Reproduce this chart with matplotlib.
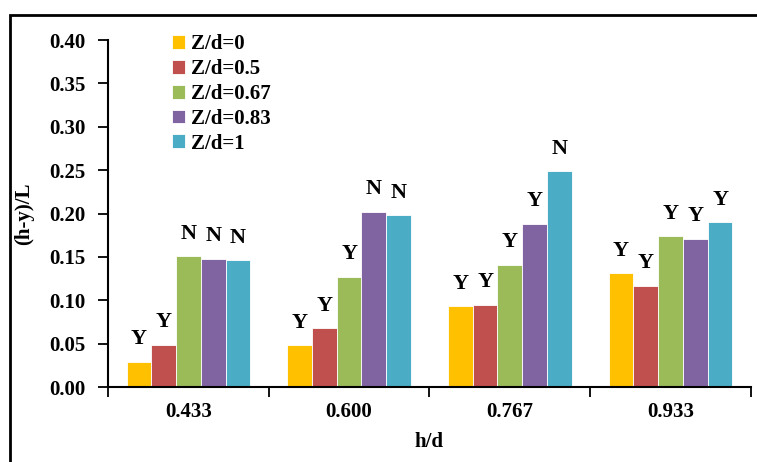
import numpy as np
import matplotlib.pyplot as plt
from matplotlib.patches import Rectangle

# h/d categories and (h-y)/L values for each Z/d series
categories = ['0.433', '0.600', '0.767', '0.933']
series_names = ['Z/d=0', 'Z/d=0.5', 'Z/d=0.67', 'Z/d=0.83', 'Z/d=1']
zd_0 = [0.029, 0.048, 0.093, 0.131]
zd_05 = [0.049, 0.068, 0.095, 0.117]
zd_067 = [0.151, 0.127, 0.141, 0.174]
zd_083 = [0.148, 0.202, 0.188, 0.171]
zd_1 = [0.146, 0.198, 0.249, 0.190]
# Y/N flag written above each bar
flags_0 = ['Y', 'Y', 'Y', 'Y']
flags_05 = ['Y', 'Y', 'Y', 'Y']
flags_067 = ['N', 'Y', 'Y', 'Y']
flags_083 = ['N', 'N', 'Y', 'Y']
flags_1 = ['N', 'N', 'N', 'Y']

colors = ['#FFC000', '#C0504D', '#9BBB59', '#8064A2', '#4BACC6']
values = [zd_0, zd_05, zd_067, zd_083, zd_1]
flags = [flags_0, flags_05, flags_067, flags_083, flags_1]

plt.rcParams['font.family'] = ['Liberation Serif', 'DejaVu Serif']
plt.rcParams['font.weight'] = 'bold'
fs = 15

fig = plt.figure(figsize=(7.57, 4.62), dpi=100)
ax = fig.add_axes([0.1427, 0.1623, 0.8493, 0.7511])

centers = np.arange(len(categories)) + 0.5
w = 0.154
for i, (vals, fl) in enumerate(zip(values, flags)):
    x = centers + (i - 2) * w
    ax.bar(x, vals, width=w, color=colors[i], edgecolor='white',
           linewidth=0.6, label=series_names[i])
    for xi, v, f in zip(x, vals, fl):
        ax.annotate(f, (xi, v), xytext=(0, 9), textcoords='offset points',
                    ha='center', va='bottom', fontsize=fs + 1, fontweight='bold')

ax.set_xlim(0, 4)
ax.set_ylim(0, 0.40)
ax.set_yticks(np.arange(0, 0.401, 0.05))
ax.set_yticklabels([f'{t:.2f}' for t in np.arange(0, 0.401, 0.05)],
                   fontsize=fs, fontweight='bold')
ax.set_xticks(np.arange(0, 5))
ax.set_xticklabels([])
ax.set_xticks(centers, minor=True)
ax.set_xticklabels(categories, minor=True, fontsize=fs, fontweight='bold')
ax.tick_params(axis='x', which='major', length=7, width=1.3, direction='out')
ax.tick_params(axis='x', which='minor', length=0, pad=11)
ax.tick_params(axis='y', length=7, width=1.3, pad=9)

for side in ['top', 'right']:
    ax.spines[side].set_visible(False)
for side in ['left', 'bottom']:
    ax.spines[side].set_linewidth(1.5)

ax.set_ylabel('(h-y)/L', fontsize=fs, fontweight='bold', labelpad=11)
ax.set_xlabel('h/d', fontsize=fs, fontweight='bold', labelpad=7)

ax.legend(loc='upper left', bbox_to_anchor=(0.07, 1.07), frameon=False,
          prop={'size': fs, 'weight': 'bold'}, handlelength=0.63,
          handleheight=0.63, handletextpad=0.3, labelspacing=0.23)

# outer frame of the chart area (only left and top edges are visible)
fig.patches.append(Rectangle((10 / 757, -0.1), 1.2, 1.1 - 15 / 462,
                             transform=fig.transFigure, fill=False,
                             edgecolor='black', linewidth=2))

fig.savefig('out.png', dpi=100)
